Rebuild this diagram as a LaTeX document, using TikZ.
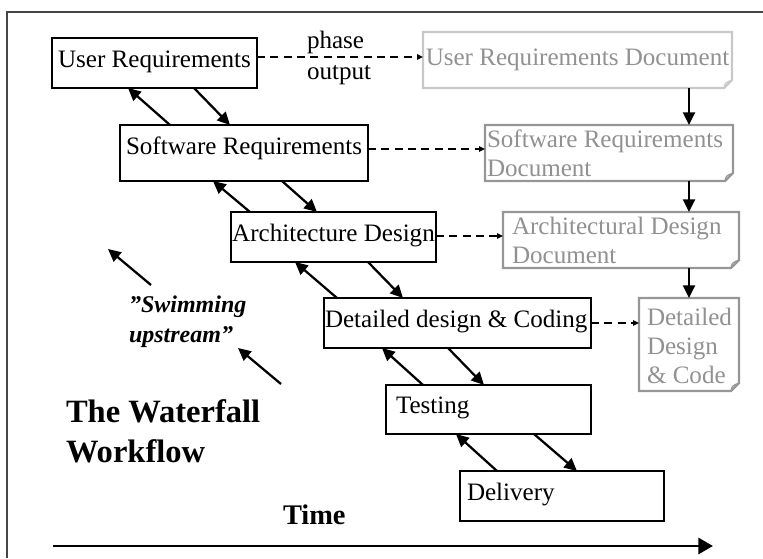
\documentclass[tikz,border=0pt]{standalone}
\usepackage{fontspec}
\setmainfont{Liberation Serif}
\usetikzlibrary{arrows.meta,calc}
\definecolor{doctext}{RGB}{145,145,145}
\definecolor{docedge}{RGB}{150,150,150}
\definecolor{docedgelt}{RGB}{200,200,200}
\definecolor{framecol}{RGB}{70,70,70}
\newcommand\docshape[2]{%
  \draw[docline,#2] (#1.north west) -- (#1.north east) -- ($(#1.south east)+(0,-8)$) -- ($(#1.south east)+(-8,0)$) -- (#1.south west) -- cycle;
  \draw[docline,#2,line width=1pt] ($(#1.south east)+(-8,0)$) .. controls ($(#1.south east)+(-7,-5)$) .. ($(#1.south east)+(0,-8)$);
}
\begin{document}
\begin{tikzpicture}[x=0.75pt,y=-0.75pt,
  every node/.style={font=\fontsize{18.8}{21.75}\selectfont, inner ysep=0pt, outer sep=0pt, anchor=north west},
  stage/.style={draw=black, line width=1.8pt, rectangle},
  doc/.style={text=doctext, rectangle},
  arr/.style={line width=1.7pt, -{Triangle[length=9.5pt,width=9pt]}},
  dasharr/.style={line width=1.3pt, dash pattern=on 6pt off 4pt, -{Triangle[length=4.5pt,width=4pt]}},
  docline/.style={line width=1.6pt, draw=docedge, line join=miter},
  lbl/.style={anchor=base west, inner sep=0pt},
]
\useasboundingbox (0,0) rectangle (763,558);
% frame
\draw[framecol, line width=0.8pt] (7,558) -- (7,12) -- (763,12);

% phase boxes
\node[stage, minimum width=153.75pt, minimum height=37.5pt, inner xsep=0pt, text height=21.75pt, text depth=15.75pt] (UR) at (52,38) {User Requirements};
\node[stage, minimum width=186pt, minimum height=42pt, inner xsep=0pt, text height=21.75pt, text depth=20.25pt] (SR) at (120,125) {Software Requirements};
\node[stage, minimum width=153.75pt, minimum height=37.5pt, inner xsep=0pt, text height=21.75pt, text depth=15.75pt] (AD) at (231,212) {Architecture Design};
\node[stage, text width=200.25pt, inner xsep=0pt, align=flush left, minimum height=37.5pt, text height=21.75pt, text depth=15.75pt] (DD) at (324,298) {\hspace*{0.75pt}Detailed design \& Coding};
\node[stage, text width=138.75pt, inner xsep=7.5pt, align=flush left, minimum height=36.75pt, text height=21pt, text depth=15.75pt] (TE) at (386,385) {Testing};
\node[stage, text width=142.5pt, inner xsep=5.25pt, align=flush left, minimum height=37.5pt, text height=21.75pt, text depth=15.75pt] (DE) at (460,471) {Delivery};

% documents
\node[doc, minimum width=231.75pt, minimum height=42pt, inner xsep=0pt, text height=24.75pt, text depth=17.25pt] (URD) at (423,32) {User Requirements Document};
\node[doc, text width=183pt, inner xsep=1.5pt, align=flush left, minimum height=42pt, text height=16.5pt, text depth=25.5pt] (SRD) at (485,125) {Software Requirements\\Document};
\node[doc, text width=163.5pt, inner xsep=6.75pt, align=flush left, minimum height=42pt, text height=16.5pt, text depth=25.5pt] (ADD) at (503,212) {Architectural Design\\Document};
\node[doc, text width=66pt, inner xsep=4.5pt, align=flush left, minimum height=69.75pt, text height=20.25pt, text depth=49.5pt, font=\fontsize{18.8}{22}\selectfont] (DDC) at (639,298) {\hspace*{1.5pt}Detailed\\\hspace*{1.5pt}Design\\\hspace*{1.5pt}\& Code};
\docshape{URD}{draw=docedgelt}
\docshape{SRD}{}
\docshape{ADD}{}
\docshape{DDC}{}

% phase output label
\node[lbl] (ph) at (307,48) {phase};
\node[lbl] (po) at (307,79) {output};

% dashed phase-output arrows
\coordinate (d1) at ($(UR.north east)+(0,19)$);
\coordinate (d2) at ($(SR.north east)+(0,24)$);
\coordinate (d3) at ($(AD.north east)+(0,24)$);
\coordinate (d4) at ($(DD.north east)+(0,25)$);
\draw[dasharr] (d1) -- (d1 -| URD.west);
\draw[dasharr] (d2) -- (d2 -| SRD.west);
\draw[dasharr] (d3) -- (d3 -| ADD.west);
\draw[dasharr] (d4) -- (d4 -| DDC.west);

% document chain
\coordinate (vx) at (689,0);
\draw[arr] (URD.south -| vx) -- (SRD.north -| vx);
\draw[arr] (SRD.south -| vx) -- (ADD.north -| vx);
\draw[arr] (ADD.south -| vx) -- (DDC.north -| vx);

% waterfall arrows (back and forth)
\draw[arr] ($(SR.north west)+(50,0)$) -- ($(UR.south west)+(76,0)$);
\draw[arr] ($(UR.south west)+(142,0)$) -- ($(SR.north west)+(110,0)$);
\draw[arr] ($(AD.north west)+(19,0)$) -- ($(SR.south west)+(93,0)$);
\draw[arr] ($(SR.south west)+(162,0)$) -- ($(AD.north west)+(86,0)$);
\draw[arr] ($(DD.north west)+(13,0)$) -- ($(AD.south west)+(64,0)$);
\draw[arr] ($(AD.south west)+(137,0)$) -- ($(DD.north west)+(79,0)$);
\draw[arr] ($(TE.north west)+(37,0)$) -- ($(DD.south west)+(58,0)$);
\draw[arr] ($(DD.south west)+(124,0)$) -- ($(TE.north west)+(98,0)$);
\draw[arr] ($(DE.north west)+(37,0)$) -- ($(TE.south west)+(70,0)$);
\draw[arr] ($(TE.south west)+(148,0)$) -- ($(DE.north west)+(117,0)$);

% swimming upstream
\node[text width=100pt, align=flush left, inner sep=0pt, text height=14pt, font=\fontsize{18}{22.5}\selectfont\bfseries\itshape] (swim) at (129,294.3) {”Swimming\\upstream”};
\coordinate (s1a) at (151,285);
\coordinate (s1b) at (108,249);
\coordinate (s2a) at (281,384);
\coordinate (s2b) at (238,348);
\draw[arr] (s1a) -- (s1b);
\draw[arr] (s2a) -- (s2b);

% title
\node[text width=170pt, align=flush left, inner sep=0pt, text height=20pt, font=\fontsize{24.4}{30}\selectfont\bfseries] (title) at (66,396.3) {The Waterfall\\Workflow};

% time axis
\node[lbl, font=\fontsize{21.3}{25}\selectfont\bfseries] (time) at (283,524) {Time};
\coordinate (t0) at (53,546);
\coordinate (t1) at (713,546);
\draw[line width=2.2pt, -{Triangle[length=11pt,width=12pt]}] (t0) -- (t1);
\end{tikzpicture}
\end{document}
